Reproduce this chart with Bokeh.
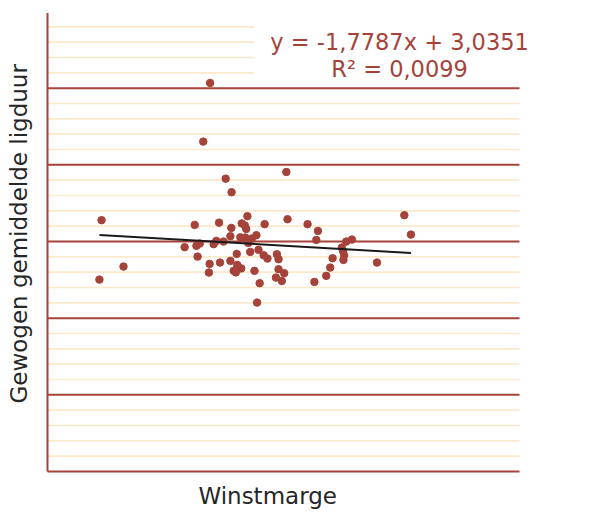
import math
from bokeh.plotting import figure
from bokeh.models import Label, BoxAnnotation, Range1d
from bokeh.embed import file_html
from bokeh.resources import INLINE

# Data
winstmarge = [-0.0271, -0.0178, -0.0280, 0.0189, 0.0160, 0.0255, 0.0280, 0.0512, 0.0124, 0.0227,
              0.0279, 0.0275, 0.0323, 0.0081, 0.0131, 0.0145, 0.0204, 0.0215, 0.0246, 0.0317,
              0.0136, 0.0302, 0.0187, 0.0184, 0.0231, 0.0275, 0.0298, 0.0304, 0.0321, 0.0347,
              0.0336, 0.0342, 0.0420, 0.0517, 0.0338, 0.0385, 0.0366, 0.0351, 0.0359, 0.0394,
              0.0416, 0.0432, 0.0472, 0.0479, 0.0377, 0.0479, 0.0503, 0.0468, 0.0493, 0.0399,
              0.0388, 0.0602, 0.0646, 0.0639, 0.0766, 0.0790, 0.0747, 0.0752, 0.0757, 0.0754,
              0.0708, 0.0698, 0.0681, 0.0631, 0.0896, 0.1012, 0.1040, 0.0289]
ligduur = [3.278, 2.673, 2.503, 5.068, 4.303, 3.820, 3.643, 3.907, 3.216, 3.246,
           3.177, 3.069, 3.236, 2.926, 2.943, 2.973, 2.965, 3.008, 2.999, 3.054,
           2.803, 2.838, 2.708, 2.595, 2.725, 2.747, 2.597, 2.695, 2.649, 3.330,
           3.210, 3.164, 3.226, 3.291, 3.051, 3.082, 3.038, 2.982, 2.864, 2.891,
           2.821, 2.777, 2.834, 2.769, 2.617, 2.639, 2.587, 2.529, 2.486, 2.456,
           2.203, 3.226, 3.138, 3.021, 2.999, 3.025, 2.921, 2.877, 2.821, 2.760,
           2.782, 2.660, 2.552, 2.473, 2.725, 3.343, 3.090, 2.617]

slope = -1.7787
intercept = 3.0351
equation_text = "y = -1,7787x + 3,0351"
r2_text = "R\u00b2 = 0,0099"
x_title = "Winstmarge"
y_title = "Gewogen gemiddelde ligduur"
x_axis_min, x_axis_max = -0.05, 0.15
y_axis_min, y_axis_max = 0, 6
major_y = [1, 2, 3, 4, 5]
minor_step = 0.2

RED = "#A5433A"
YELLOW = "#FCE9CB"
TXT = "#262626"
FONT = "DejaVu Sans"

# scale: 2360 px per x unit, 76.667 px per y unit; the plotting frame spans the whole canvas
XPX, YPX = 2360.0, 460.0 / 6
W, H = 585, 515
left_px, bottom_px = 47, 44
p = figure(frame_width=W, frame_height=H,
           x_range=Range1d(x_axis_min - left_px / XPX, x_axis_min + (W - left_px) / XPX),
           y_range=Range1d(y_axis_min - bottom_px / YPX, y_axis_min + (H - bottom_px) / YPX),
           output_backend="svg", toolbar_location=None,
           min_border_left=0, min_border_top=0, min_border_right=0, min_border_bottom=0)
p.outline_line_color = None
p.background_fill_color = "white"
p.border_fill_color = "white"
p.xgrid.visible = False
p.ygrid.visible = False
p.xaxis.visible = False
p.yaxis.visible = False

# gridlines (limited to the axis extent)
n_minor = int(round((y_axis_max - y_axis_min) / minor_step))
minor_y = [round(y_axis_min + i * minor_step, 2) for i in range(1, n_minor)]
minor_y = [v for v in minor_y if all(abs(v - m) > 1e-6 for m in major_y)]
p.segment(x0=[x_axis_min] * len(minor_y), y0=minor_y, x1=[x_axis_max] * len(minor_y), y1=minor_y,
          line_color=YELLOW, line_width=1.7)
p.segment(x0=[x_axis_min] * len(major_y), y0=major_y, x1=[x_axis_max] * len(major_y), y1=major_y,
          line_color=RED, line_width=2)
# axis lines
p.segment(x0=[x_axis_min, x_axis_min], y0=[y_axis_min, y_axis_min],
          x1=[x_axis_max, x_axis_min], y1=[y_axis_min, y_axis_max - 0.02],
          line_color=RED, line_width=2)

p.scatter(winstmarge, ligduur, size=7.5, color=RED, line_color=RED)

xmin, xmax = min(winstmarge), max(winstmarge)
p.line([xmin, xmax], [intercept + slope * xmin, intercept + slope * xmax],
       line_color="#1a1a1a", line_width=2)

box = BoxAnnotation(left=0.0375, right=x_axis_max, bottom=5.09, top=y_axis_max,
                    fill_color="white", fill_alpha=1, line_color=None)
p.add_layout(box)

p.add_layout(Label(x=0.0992, y=5.604, text=equation_text, text_align="center",
                   text_baseline="alphabetic", text_font=FONT, text_font_size="22.5px",
                   text_color=RED))
p.add_layout(Label(x=0.0992, y=5.256, text=r2_text, text_align="center",
                   text_baseline="alphabetic", text_font=FONT, text_font_size="22.5px",
                   text_color=RED))

p.add_layout(Label(x=0.0433, y=-0.326, text=x_title, text_align="center",
                   text_baseline="alphabetic", text_font=FONT, text_font_size="23px",
                   text_color=TXT))
p.add_layout(Label(x=-0.0621, y=3.10, angle=math.pi / 2, text=y_title, text_align="center",
                   text_baseline="alphabetic", text_font=FONT, text_font_size="23px",
                   text_color=TXT))

open("out.html", "w").write(file_html(p, INLINE))
